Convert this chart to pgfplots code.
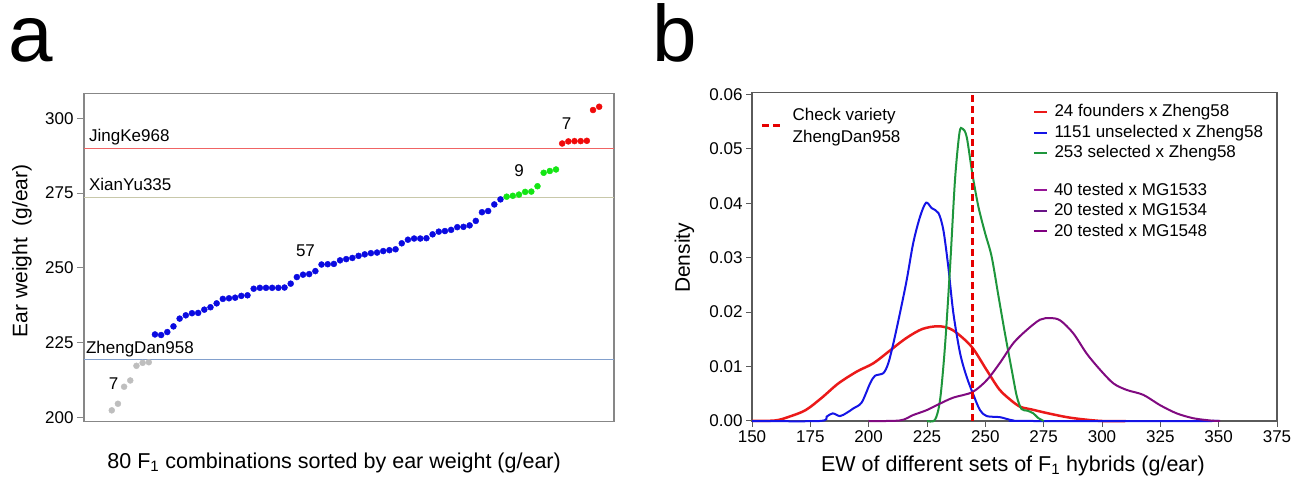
\documentclass[border=0pt]{standalone}
\usepackage{pgfplots}
\pgfplotsset{compat=1.18}
\usepackage{fontspec}
\setmainfont{Liberation Sans}
\newcommand{\fs}[1]{\fontsize{#1pt}{#1pt}\selectfont}
\definecolor{framea}{RGB}{135,135,135}
\definecolor{frameb}{RGB}{90,90,90}
\definecolor{dgrey}{RGB}{190,190,190}
\definecolor{dblue}{RGB}{10,10,225}
\definecolor{dgreen}{RGB}{20,230,20}
\definecolor{dred}{RGB}{240,10,10}
\definecolor{ljing}{RGB}{240,100,100}
\definecolor{lxian}{RGB}{200,200,170}
\definecolor{lzheng}{RGB}{130,160,205}
\definecolor{cred}{RGB}{235,25,25}
\definecolor{cblue}{RGB}{20,20,230}
\definecolor{cgreen}{RGB}{30,150,60}
\definecolor{cpurple}{RGB}{128,10,128}
\definecolor{pA}{RGB}{150,20,150}
\definecolor{pB}{RGB}{105,20,135}
\definecolor{pC}{RGB}{128,0,128}
\begin{document}
\begin{tikzpicture}
\path[use as bounding box] (0pt,0pt) rectangle (1298pt,481pt);
\node[anchor=base west, inner sep=0pt, font=\fs{80}] at (8pt,419pt) {a};
\node[anchor=base west, inner sep=0pt, font=\fs{80}] at (652pt,419pt) {b};

% ---------------- panel a ----------------
\begin{axis}[
  at={(84pt,59.3pt)}, anchor=south west, scale only axis,
  width=530pt, height=328.4pt,
  xmin=-3.5, xmax=82.4, ymin=198.5, ymax=308.4,
  xtick=\empty, ytick={200,225,250,275,300},
  ytick pos=left, tick align=outside, major tick length=7pt,
  axis line style={draw=framea, line width=1.2pt},
  tick style={draw=framea, line width=1pt},
  /pgf/number format/assume math mode=true,
  ticklabel style={font=\fs{17}, text=black},
  ylabel={Ear weight\ \ (g/ear)},
  xlabel={80 F\textsubscript{1} combinations sorted by ear weight (g/ear)},
  every axis y label/.style={at={(axis description cs:-0.117,0.52)}, rotate=90, anchor=center, font=\fs{21}},
  every axis x label/.style={at={(axis description cs:0.472,-0.126)}, anchor=center, font=\fs{21.5}},
]
\addplot[ljing, line width=1pt] coordinates {(-3.5,289.9) (82.4,289.9)};
\addplot[lxian, line width=1.2pt] coordinates {(-3.5,273.5) (82.4,273.5)};
\addplot[lzheng, line width=1.2pt] coordinates {(-3.5,219.2) (82.4,219.2)};
\addplot[only marks, mark=*, mark size=3pt, color=dgrey] coordinates {
(1,202.3) (2,204.5) (3,210.2) (4,212.3) (5,217.2) (6,218.2) (7,218.4)};
\addplot[only marks, mark=*, mark size=3pt, color=dblue] coordinates {
(8,227.7) (9,227.5) (10,228.5) (11,230.4) (12,233.0) (13,234.1) (14,234.8) (15,234.9)
(16,236.0) (17,236.8) (18,238.1) (19,239.6) (20,239.8) (21,240.0) (22,240.6) (23,240.8)
(24,243.0) (25,243.3) (26,243.3) (27,243.3) (28,243.3) (29,243.4) (30,244.7) (31,246.9)
(32,247.7) (33,247.9) (34,248.9) (35,251.1) (36,251.2) (37,251.3) (38,252.5) (39,252.9)
(40,253.3) (41,254.0) (42,254.5) (43,254.9) (44,255.1) (45,255.6) (46,255.9) (47,256.2)
(48,258.2) (49,259.4) (50,259.8) (51,259.8) (52,259.9) (53,261.2) (54,262.1) (55,262.3)
(56,262.7) (57,263.6) (58,263.7) (59,264.2) (60,265.7) (61,268.6) (62,269.0) (63,271.2)
(64,272.9)};
\addplot[only marks, mark=*, mark size=3pt, color=dgreen] coordinates {
(65,273.8) (66,274.1) (67,274.5) (68,275.4) (69,275.5) (70,277.3) (71,281.8) (72,282.4) (73,282.9)};
\addplot[only marks, mark=*, mark size=3pt, color=dred] coordinates {
(74,291.6) (75,292.3) (76,292.4) (77,292.4) (78,292.5) (79,302.8) (80,303.9)};
\node[anchor=base west, inner sep=0pt, font=\fs{17}, yshift=7.5pt] at (axis cs:-2.7,289.9) {JingKe968};
\node[anchor=base west, inner sep=0pt, font=\fs{17}, yshift=7.5pt] at (axis cs:-2.7,273.5) {XianYu335};
\node[anchor=base west, inner sep=0pt, font=\fs{17}, yshift=6pt] at (axis cs:-3.2,219.2) {ZhengDan958};
\node[font=\fs{17}, inner sep=0pt] at (axis cs:1.28,211.3) {7};
\node[font=\fs{17}, inner sep=0pt] at (axis cs:32.4,255.7) {57};
\node[font=\fs{17}, inner sep=0pt] at (axis cs:67.0,282.5) {9};
\node[font=\fs{17}, inner sep=0pt] at (axis cs:74.7,298.3) {7};
\end{axis}

% ---------------- panel b ----------------
\begin{axis}[
  at={(752pt,60pt)}, anchor=south west, scale only axis,
  width=525pt, height=328.3pt,
  xmin=150, xmax=375, ymin=0, ymax=0.0603, clip=false,
  xtick={150,175,200,225,250,275,300,325,350,375},
  ytick={0,0.01,0.02,0.03,0.04,0.05,0.06},
  xtick pos=bottom, ytick pos=left, tick align=outside, major tick length=6pt,
  axis line style={draw=frameb, line width=1.1pt},
  tick style={draw=frameb, line width=1pt},
  /pgf/number format/assume math mode=true,
  ticklabel style={font=\fs{17}, text=black},
  yticklabel style={/pgf/number format/fixed, /pgf/number format/fixed zerofill, /pgf/number format/precision=2},
  scaled y ticks=false,
  ylabel={Density},
  xlabel={EW of different sets of F\textsubscript{1} hybrids (g/ear)},
  every axis y label/.style={at={(axis description cs:-0.1286,0.497)}, rotate=90, anchor=center, font=\fs{21}},
  every axis x label/.style={at={(axis description cs:0.497,-0.137)}, anchor=center, font=\fs{21.5}},
  legend image code/.code={\draw[#1] (0pt,0pt) -- (13pt,0pt);},
  legend cell align=left,
  legend style={draw=none, fill=none, font=\fs{17}, inner sep=0pt, outer sep=0pt,
    at={(axis description cs:0.5343,0.972)}, anchor=north west, row sep=0pt, column sep=5pt,
    nodes={inner sep=1.5pt, text height=13.5pt, text depth=4pt}},
]
\addplot[cred, line width=2.5pt, smooth, tension=0.5] coordinates {
(150,0) (160,0.0001) (166,0.0008) (173,0.0020) (180,0.0043) (187,0.0069) (195,0.0091)
(202,0.0106) (209,0.0129) (216,0.0152) (223,0.0169) (230,0.0174) (236,0.0167) (244,0.0137)
(250.5,0.0094) (256,0.0058) (261,0.0038) (265,0.0026) (270,0.0021) (277,0.0014) (285,0.0007)
(292,0.0003) (300,0) (310,0)};
\addlegendentry{24 founders x Zheng58}
\addplot[cblue, line width=2pt, smooth, tension=0.5] coordinates {
(150,0) (179,0) (182,0.0008) (184.6,0.0014) (187.7,0.0009) (190.6,0.0015) (193.4,0.0023)
(197,0.0034) (200.6,0.0069) (202.7,0.0083) (206.3,0.0088) (208.4,0.0106) (210.6,0.0143)
(213.4,0.0198) (216.3,0.0259) (219.1,0.0327) (222,0.0375) (224.6,0.0401) (227,0.0391)
(229.9,0.0382) (232,0.0351) (234.1,0.0284) (236.3,0.0198) (239.2,0.0124) (242,0.0081)
(244.9,0.0048) (247.7,0.0020) (250.6,0.0009) (256.3,0.0007) (262,0.0001) (270,0) (350,0)};
\addlegendentry{1151 unselected x Zheng58}
\addplot[cgreen, line width=2pt, smooth, tension=0.5] coordinates {
(225,0) (228.4,0.0002) (230.6,0.0039) (232.7,0.0137) (234.9,0.0284) (237,0.0443)
(238.9,0.0529) (240.2,0.0537) (242,0.0522) (244.4,0.0455) (247,0.0394) (249.9,0.0345)
(252.7,0.0302) (255.6,0.0230) (258.4,0.0161) (261.3,0.0094) (263.5,0.0045) (265.5,0.0022)
(268,0.0019) (270.6,0.0014) (272.5,0.0006) (275,0)};
\addlegendentry{253 selected x Zheng58}
\end{axis}

% purple group (own legend)
\begin{axis}[
  at={(752pt,60pt)}, anchor=south west, scale only axis, hide axis,
  width=525pt, height=328.3pt,
  xmin=150, xmax=375, ymin=0, ymax=0.0603, clip=false,
  legend image code/.code={\draw[#1] (0pt,0pt) -- (13pt,0pt);},
  legend cell align=left,
  legend style={draw=none, fill=none, font=\fs{17}, inner sep=0pt, outer sep=0pt,
    at={(axis description cs:0.5343,0.734)}, anchor=north west, row sep=0pt, column sep=5pt,
    nodes={inner sep=1.5pt, text height=13.5pt, text depth=4pt}},
]
\addplot[cpurple, line width=2pt, smooth, tension=0.5, forget plot] coordinates {
(200,0) (213.4,0.0001) (219.1,0.0011) (224.9,0.0020) (230.6,0.0032) (236.3,0.0043)
(244.4,0.0053) (250.6,0.0075) (256.3,0.0107) (262,0.0143) (267.7,0.0167) (273.4,0.0186)
(277.7,0.0189) (282,0.0185) (287.7,0.0161) (293.4,0.0124) (299.2,0.0094) (304.9,0.0069)
(310.6,0.0057) (317.7,0.0048) (324.9,0.0029) (332,0.0014) (339.2,0.0005) (346.3,0.0001) (350.6,0)};
\addlegendimage{pA, line width=2pt}
\addlegendentry{40 tested x MG1533}
\addlegendimage{pB, line width=2pt}
\addlegendentry{20 tested x MG1534}
\addlegendimage{pC, line width=2pt}
\addlegendentry{20 tested x MG1548}
\end{axis}

% check variety line (own legend)
\begin{axis}[
  at={(752pt,60pt)}, anchor=south west, scale only axis, hide axis,
  width=525pt, height=328.3pt,
  xmin=150, xmax=375, ymin=0, ymax=0.0603, clip=false,
  legend image code/.code={\draw[#1] (0pt,0pt) -- (19pt,0pt);},
  legend cell align=left,
  legend style={draw=none, fill=none, font=\fontsize{17pt}{21.7pt}\selectfont, inner sep=0pt, outer sep=0pt,
    at={(axis description cs:0.0175,0.9595)}, anchor=north west, column sep=8pt,
    cells={align=left}},
]
\addplot[red!90!black, line width=2.5pt, dash pattern=on 7pt off 4pt] coordinates {(244.5,0) (244.5,0.0603)};
\addlegendentry{Check variety\\ZhengDan958}
\end{axis}
\end{tikzpicture}
\end{document}
